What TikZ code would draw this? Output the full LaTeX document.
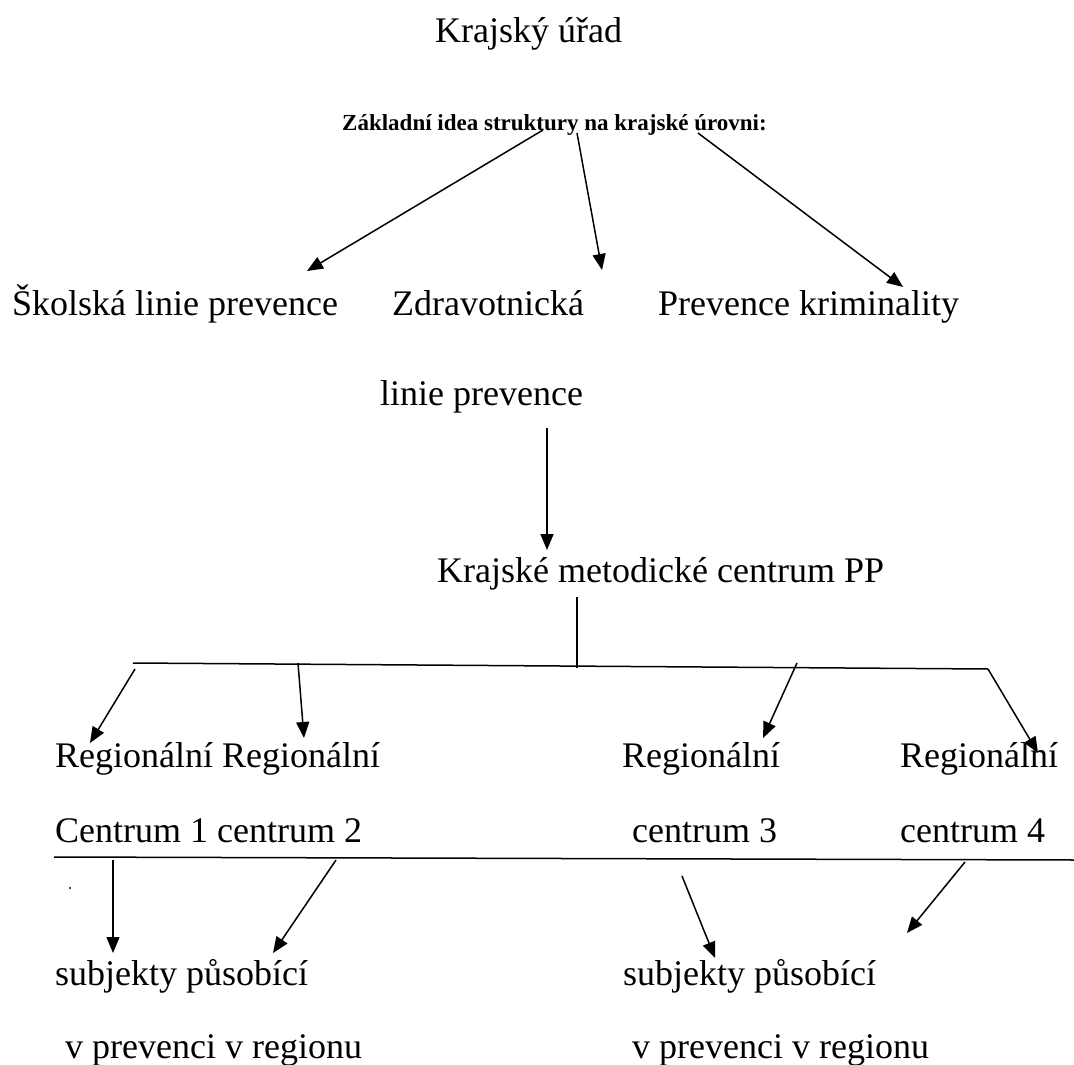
\documentclass[tikz,border=0pt]{standalone}
\usepackage{fontspec}
\setmainfont{Liberation Serif}
\usetikzlibrary{arrows.meta,positioning}

\begin{document}
\begin{tikzpicture}[x=1pt, y=-1pt,
  txt/.style={anchor=base west, inner sep=0pt, font=\fontsize{36}{40}\selectfont},
  head/.style={txt, font=\fontsize{23}{27}\selectfont\bfseries},
  arr/.style={-{Triangle[length=16pt,width=13pt]}, line width=1.5pt},
  ln/.style={line width=1.5pt}]
\useasboundingbox (0,0) rectangle (1074,1065);

\node[txt]  (kraj)  at (435,43)  {Krajský úřad};
\node[head] (idea)  at (342,130) {Základní idea struktury na krajské úrovni:};

\node[txt] (skol)  at (12,315)  {Školská linie prevence};
\node[txt] (zdrav) at (392,315) {Zdravotnická};
\node[txt] (linie) at (380,405) {linie prevence};
\node[txt] (krim)  at (658,315) {Prevence kriminality};
\node[txt] (kmc)   at (437,582) {Krajské metodické centrum PP};

\node[txt] (reg12) at (55,767)  {Regionální Regionální};
\node[txt] (reg3)  at (622,767) {Regionální};
\node[txt] (reg4)  at (900,767) {Regionální};
\node[txt] (cen12) at (55,842)  {Centrum 1 centrum 2};
\node[txt] (cen3)  at (632,842) {centrum 3};
\node[txt] (cen4)  at (900,842) {centrum 4};

\node[txt] (subj1) at (55,985)   {subjekty působící};
\node[txt] (subj2) at (623,985)  {subjekty působící};
\node[txt] (vreg1) at (65,1058)  {v prevenci v regionu};
\node[txt] (vreg2) at (632,1058) {v prevenci v regionu};

% arrows from the heading
\coordinate (i1) at (543,130); \coordinate (t1) at (307,271);
\coordinate (i2) at (577,133); \coordinate (t2) at (602,270);
\coordinate (i3) at (698,133); \coordinate (t3) at (903,287);
\draw[arr] (i1) -- (t1);
\draw[arr] (i2) -- (t2);
\draw[arr] (i3) -- (t3);

\coordinate (l1) at (547,428); \coordinate (l2) at (547,550);
\draw[arr] (l1) -- (l2);

% distribution line
\coordinate (k1) at (577,597); \coordinate (k2) at (577,668);
\draw[ln] (k1) -- (k2);
\coordinate (hl) at (133,663); \coordinate (hr) at (988,669);
\coordinate (r4) at (1038,753);
\draw[ln] (hl) -- (hr);
\draw[arr] (hr) -- (r4);

\coordinate (s1) at (135,669); \coordinate (r1) at (90,743);
\coordinate (s2) at (298,663); \coordinate (r2) at (304,738);
\coordinate (s3) at (797,663); \coordinate (r3) at (763,738);
\draw[arr] (s1) -- (r1);
\draw[arr] (s2) -- (r2);
\draw[arr] (s3) -- (r3);

% lower line
\coordinate (bl) at (54,857); \coordinate (br) at (1074,860);
\draw[ln] (bl) -- (br);
\coordinate (u1) at (113,860); \coordinate (v1) at (113,953);
\coordinate (u2) at (336,860); \coordinate (v2) at (273,953);
\coordinate (u3) at (682,876); \coordinate (v3) at (715,958);
\coordinate (u4) at (965,862); \coordinate (v4) at (907,933);
\draw[arr] (u1) -- (v1);
\draw[arr] (u2) -- (v2);
\draw[arr] (u3) -- (v3);
\draw[arr] (u4) -- (v4);

\coordinate (dot) at (70,888);
\fill (dot) circle (1.2);
\end{tikzpicture}
\end{document}
